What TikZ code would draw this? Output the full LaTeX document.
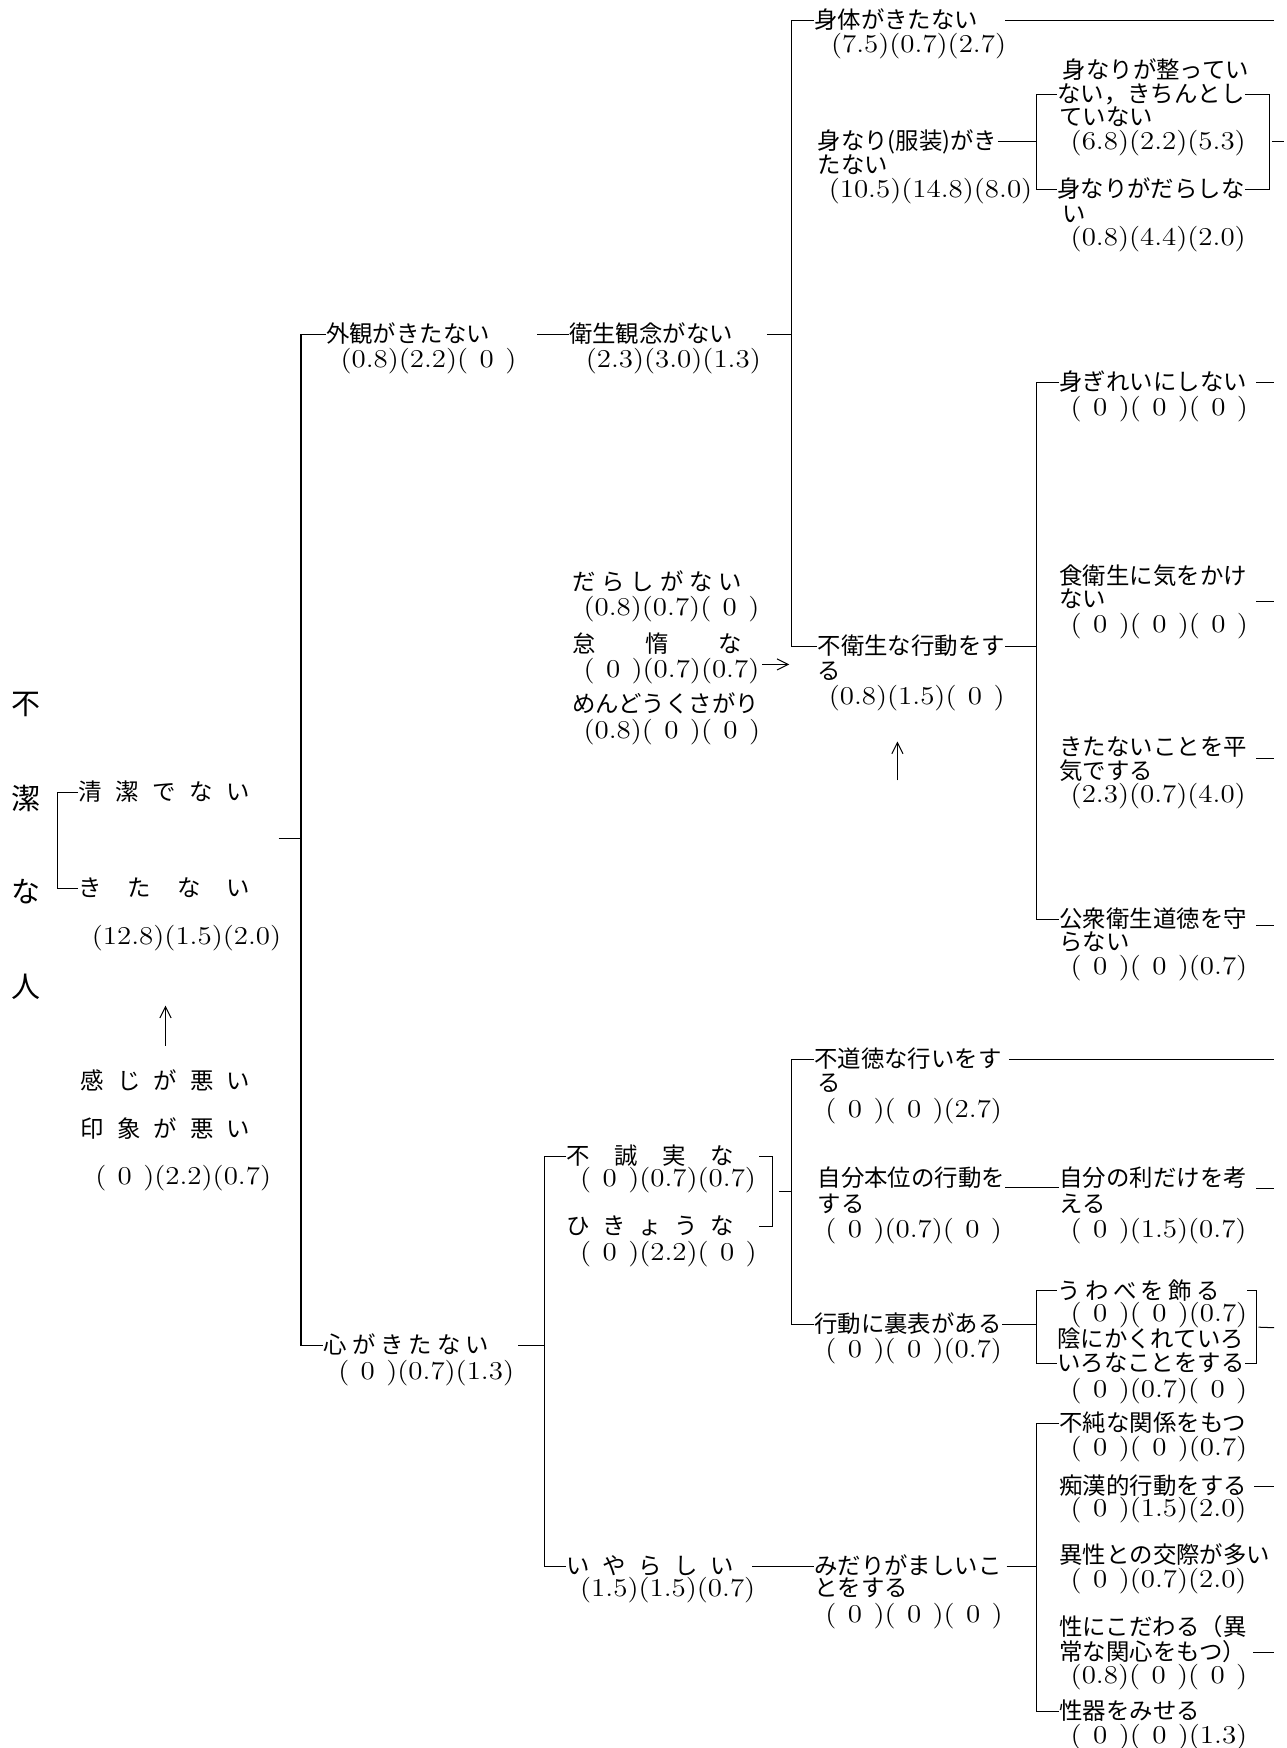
\documentclass[tikz,border=0pt]{standalone}
\usepackage{fontspec}
\usepackage{graphicx}
\newfontfamily\jp{Noto Sans CJK JP}
\usetikzlibrary{arrows.meta}

\newcommand\zr{\makebox[1.278em]{0}}
\newcommand\tri[3]{\scalebox{1.13}[1]{(#1)(#2)(#3)}}

\tikzset{
  lbl/.style={anchor=west, inner sep=0pt, text height=8.5pt, text depth=1.2pt, font=\jp\fontsize{10.5}{11}\selectfont},
  cnt/.style={anchor=west, inner sep=0pt, text height=8.5pt, text depth=1.2pt, font=\fontsize{11.5}{12}\selectfont},
  big/.style={anchor=west, inner sep=0pt, font=\jp\fontsize{13}{13}\selectfont},
  arr/.style={-{Straight Barb[length=5pt,width=5pt]}},
}

\begin{document}
\begin{tikzpicture}[x=0.5pt, y=-0.5pt, line width=0.45pt]
    \useasboundingbox (0,0) rectangle (1154,1568);
    % title
    \node[big] (t1) at (10,632) {不};
    \node[big] (t2) at (10,716) {潔};
    \node[big] (t3) at (10,800) {な};
    \node[big] (t4) at (10,885) {人};
    % left group
    \node[lbl] (seiketsu) at (70,711) {\makebox[77pt][s]{清 潔 で な い}};
    \node[lbl] (kitanai) at (70,797) {\makebox[77pt][s]{き た な い}};
    \node[cnt] (kitanai-n) at (82,840) {\tri{12.8}{1.5}{2.0}};
    \node[lbl] (kanji) at (72,970) {\makebox[76pt][s]{感 じ が 悪 い}};
    \node[lbl] (inshou) at (72,1013) {\makebox[76pt][s]{印 象 が 悪 い}};
    \node[cnt] (inshou-n) at (85,1055) {\tri{\zr}{2.2}{0.7}};
    \draw (seiketsu.west) -- ++(-18,0) |- (kitanai.west);
    \draw[arr, shorten <=11pt, shorten >=26pt] (kanji.north) -- (kanji.north |- kitanai-n.south);
    % level 1
    \node[lbl] (gaikan) at (292,300) {外観がきたない};
    \node[cnt] (gaikan-n) at (305,322) {\tri{0.8}{2.2}{\zr}};
    \node[lbl] (kokoro) at (290,1207) {\makebox[74pt][s]{心 が き た な い}};
    \node[cnt] (kokoro-n) at (303,1230) {\tri{\zr}{0.7}{1.3}};
    \coordinate (root) at (250,752);
    \draw (gaikan.west) -- ++(-22,0) coordinate (b1) |- (kokoro.west);
    \draw (root) -- (root -| b1);
    % outward look
    \node[lbl] (eisei) at (510,300) {衛生観念がない};
    \node[cnt] (eisei-n) at (525,322) {\tri{2.3}{3.0}{1.3}};
    \draw ([xshift=21pt]gaikan.east) -- (eisei.west);
    \node[lbl] (shintai) at (730,18) {身体がきたない};
    \node[cnt] (shintai-n) at (745,40) {\tri{7.5}{0.7}{2.7}};
    \node[lbl] (minari) at (733,127) {身なり(服装)がき};
    \node[lbl] (minari-2) at (733,148) {たない};
    \node[cnt] (minari-n) at (743,170) {\tri{10.5}{14.8}{8.0}};
    \node[lbl] (fueisei) at (733,580) {不衛生な行動をす};
    \node[lbl] (fueisei-2) at (733,602) {る};
    \node[cnt] (fueisei-n) at (743,625) {\tri{0.8}{1.5}{\zr}};
    \draw (shintai.west) -- ++(-20,0) coordinate (b2) |- (fueisei.west);
    \draw ([xshift=15pt]eisei.east) -- (eisei.east -| b2);
    \coordinate (out1) at (1143,18);
    \draw ([xshift=12pt]shintai.east) -- (out1);
    % clothes
    \node[lbl] (totono) at (953,63) {身なりが整ってい};
    \node[lbl] (totono-2) at (948,85) {ない，きちんとし};
    \node[lbl] (totono-3) at (950,105) {ていない};
    \node[cnt] (totono-n) at (960,127) {\tri{6.8}{2.2}{5.3}};
    \node[lbl] (darashi) at (948,170) {身なりがだらしな};
    \node[lbl] (darashi-2) at (953,192) {い};
    \node[cnt] (darashi-n) at (960,213) {\tri{0.8}{4.4}{2.0}};
    \draw (totono-2.west) -- ++(-18,0) coordinate (b3) |- (darashi.west);
    \draw (totono-2.east) -- ++(22,0) coordinate (b3r) |- (darashi.east);
    \draw (minari.east) -- (minari.east -| b3);
    \coordinate (out2) at (1152,127);
    \draw ([xshift=1pt]out2 -| b3r) -- (out2);
    % causes
    \node[lbl] (darashinai) at (513,522) {\makebox[76pt][s]{だ ら し が な い}};
    \node[cnt] (darashinai-n) at (523,545) {\tri{0.8}{0.7}{\zr}};
    \node[lbl] (taida) at (513,578) {\makebox[76pt][s]{怠 惰 な}};
    \node[cnt] (taida-n) at (523,600) {\tri{\zr}{0.7}{0.7}};
    \node[lbl] (mendou) at (513,632) {めんどうくさがり};
    \node[cnt] (mendou-n) at (523,655) {\tri{0.8}{\zr}{\zr}};
    \draw[arr, shorten <=1pt, shorten >=1pt] ([yshift=2pt]taida-n.east) -- ([yshift=2pt]taida-n.east -| b2);
    \coordinate (up2) at (805,700);
    \draw[arr, shorten >=15pt] (up2) -- (up2 |- fueisei-n.south);
    % unhygienic acts
    \node[lbl] (migirei) at (950,343) {身ぎれいにしない};
    \node[cnt] (migirei-n) at (960,365) {\tri{\zr}{\zr}{\zr}};
    \node[lbl] (shoku) at (950,517) {食衛生に気をかけ};
    \node[lbl] (shoku-2) at (950,538) {ない};
    \node[cnt] (shoku-n) at (960,560) {\tri{\zr}{\zr}{\zr}};
    \node[lbl] (heiki) at (950,670) {きたないことを平};
    \node[lbl] (heiki-2) at (950,692) {気でする};
    \node[cnt] (heiki-n) at (960,713) {\tri{2.3}{0.7}{4.0}};
    \node[lbl] (kooshu) at (950,825) {公衆衛生道徳を守};
    \node[lbl] (kooshu-2) at (950,845) {らない};
    \node[cnt] (kooshu-n) at (960,867) {\tri{\zr}{\zr}{0.7}};
    \draw (migirei.west) -- ++(-20,0) coordinate (b4) |- (kooshu.west);
    \draw (fueisei.east) -- (fueisei.east -| b4);
    \coordinate (out3) at (1143,343);
    \coordinate (out4) at (1143,540);
    \coordinate (out5) at (1143,680);
    \coordinate (out6) at (1143,830);
    \draw ([xshift=4pt]migirei.east) -- (out3);
    \draw ([xshift=4pt]shoku.east |- out4) -- (out4);
    \draw ([xshift=4pt]heiki.east |- out5) -- (out5);
    \draw ([xshift=4pt]kooshu.east |- out6) -- (out6);
    % mind
    \node[lbl] (fuseijitsu) at (508,1037) {\makebox[75pt][s]{不 誠 実 な}};
    \node[cnt] (fuseijitsu-n) at (520,1057) {\tri{\zr}{0.7}{0.7}};
    \node[lbl] (hikyou) at (508,1100) {\makebox[75pt][s]{ひ き ょ う な}};
    \node[cnt] (hikyou-n) at (520,1123) {\tri{\zr}{2.2}{\zr}};
    \node[lbl] (iyarashii) at (508,1405) {\makebox[75pt][s]{い や ら し い}};
    \node[cnt] (iyarashii-n) at (520,1425) {\tri{1.5}{1.5}{0.7}};
    \draw (fuseijitsu.west) -- ++(-20,0) coordinate (b5) |- (iyarashii.west);
    \draw ([xshift=13pt]kokoro.east) -- (kokoro.east -| b5);
    \draw ([xshift=11pt]fuseijitsu.east) -- ++(12,0) coordinate (b6) |- ([xshift=11pt]hikyou.east);
    \path (b6) -- (b6 |- hikyou.east) coordinate[midway] (b6m);
    % dishonest acts
    \node[lbl] (futoku) at (730,950) {不道徳な行いをす};
    \node[lbl] (futoku-2) at (733,972) {る};
    \node[cnt] (futoku-n) at (740,995) {\tri{\zr}{\zr}{2.7}};
    \node[lbl] (jibun) at (733,1057) {自分本位の行動を};
    \node[lbl] (jibun-2) at (733,1080) {する};
    \node[cnt] (jibun-n) at (740,1103) {\tri{\zr}{0.7}{\zr}};
    \node[lbl] (jibunri) at (950,1057) {自分の利だけを考};
    \node[lbl] (jibunri-2) at (950,1080) {える};
    \node[cnt] (jibunri-n) at (960,1103) {\tri{\zr}{1.5}{0.7}};
    \node[lbl] (uraomote) at (730,1188) {行動に裏表がある};
    \node[cnt] (uraomote-n) at (740,1210) {\tri{\zr}{\zr}{0.7}};
    \draw (futoku.west) -- ++(-20,0) coordinate (b7) |- (uraomote.west);
    \draw ([xshift=3pt]b6m) -- (b6m -| b7);
    \coordinate (out7) at (1143,950);
    \coordinate (out8) at (1143,1066);
    \draw ([xshift=3pt]futoku.east) -- (out7);
    \draw ([yshift=-4pt]jibun.east) -- ([yshift=-4pt]jibunri.west);
    \draw ([xshift=4pt]jibunri.east |- out8) -- (out8);
    \node[lbl] (uwabe) at (948,1158) {\makebox[73pt][s]{う わ べ を 飾 る}};
    \node[cnt] (uwabe-n) at (960,1178) {\tri{\zr}{\zr}{0.7}};
    \node[lbl] (kage) at (948,1201) {陰にかくれていろ};
    \node[lbl] (kage-2) at (948,1223) {いろなことをする};
    \node[cnt] (kage-n) at (960,1246) {\tri{\zr}{0.7}{\zr}};
    \draw (uwabe.west) -- ++(-18,0) coordinate (b8) |- (kage-2.west);
    \draw (uraomote.east) -- (uraomote.east -| b8);
    \draw ([xshift=12pt]uwabe.east) -- ++(8,0) coordinate (b8r) |- (kage-2.east);
    \path (b8r) -- (b8r |- kage-2.east) coordinate[midway] (b8m);
    \coordinate (out9) at (1143,1191);
    \draw ([xshift=1pt]b8m) -- (out9);
    % lewd acts
    \node[lbl] (midari) at (730,1405) {みだりがましいこ};
    \node[lbl] (midari-2) at (730,1425) {とをする};
    \node[cnt] (midari-n) at (740,1448) {\tri{\zr}{\zr}{\zr}};
    \draw ([xshift=8pt]iyarashii.east) -- (midari.west);
    \node[lbl] (fujun) at (950,1277) {不純な関係をもつ};
    \node[cnt] (fujun-n) at (960,1298) {\tri{\zr}{\zr}{0.7}};
    \node[lbl] (chikan) at (950,1333) {痴漢的行動をする};
    \node[cnt] (chikan-n) at (960,1353) {\tri{\zr}{1.5}{2.0}};
    \node[lbl] (isei) at (950,1395) {異性との交際が多い};
    \node[cnt] (isei-n) at (960,1417) {\tri{\zr}{0.7}{2.0}};
    \node[lbl] (sei) at (950,1460) {性にこだわる（異};
    \node[lbl] (sei-2) at (950,1482) {常な関心をもつ）};
    \node[cnt] (sei-n) at (960,1503) {\tri{0.8}{\zr}{\zr}};
    \node[lbl] (seiki) at (950,1535) {性器をみせる};
    \node[cnt] (seiki-n) at (960,1557) {\tri{\zr}{\zr}{1.3}};
    \draw (fujun.west) -- ++(-20,0) coordinate (b9) |- (seiki.west);
    \draw ([xshift=2pt]midari.east) -- (midari.east -| b9);
    \coordinate (out10) at (1143,1333);
    \coordinate (out11) at (1143,1482);
    \draw ([xshift=3pt]chikan.east) -- (out10);
    \draw ([xshift=3pt]sei-2.east) -- (out11);
\end{tikzpicture}
\end{document}
